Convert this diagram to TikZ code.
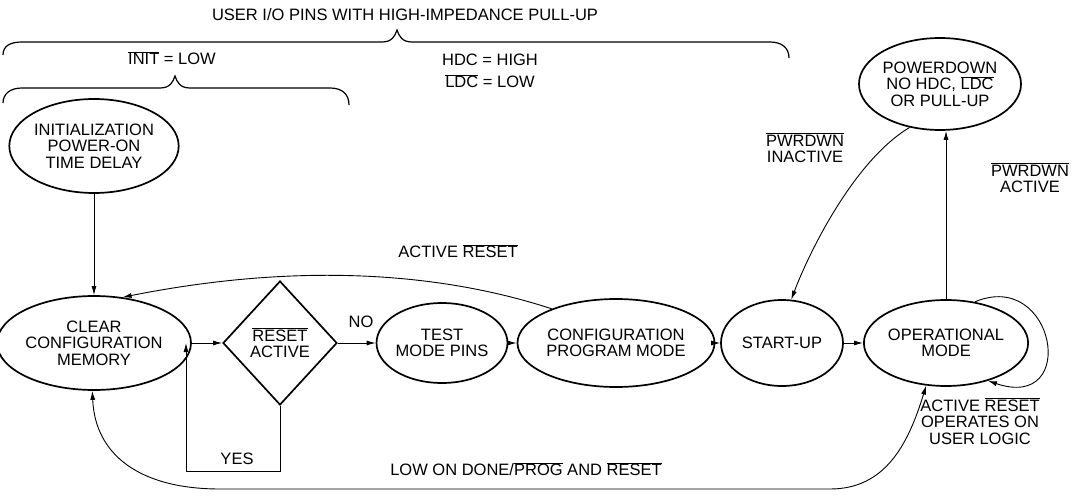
\documentclass[tikz,border=0pt]{standalone}
\usepackage{fontspec}
\setmainfont{Liberation Sans}
\usetikzlibrary{shapes.geometric,arrows.meta}
\newcommand{\ovl}[1]{$\overline{\mbox{#1}}$}
\begin{document}
\begin{tikzpicture}[x=1pt,y=-1pt,
  font=\fontsize{16.5}{16.5}\selectfont,
  st/.style={ellipse, draw, line width=1.7pt, inner sep=0pt, align=center},
  dia/.style={diamond, draw, line width=1.7pt, inner sep=0pt, align=center},
  conn/.style={line width=0.9pt, -{Latex[length=9pt,width=5pt]}},
  biconn/.style={line width=0.9pt, {Latex[length=9pt,width=5pt]}-{Latex[length=9pt,width=5pt]}},
  brace/.style={line width=1.2pt},
  lbl/.style={inner sep=0pt, align=center}]
\useasboundingbox (0,0) rectangle (1084,497);

% braces
\draw[brace] (3,55) .. controls (3,46) and (10,42) .. (22,42) -- (382,42)
  .. controls (392,42) and (395,36) .. (397,30)
  .. controls (399,36) and (402,42) .. (412,42) -- (770,42)
  .. controls (782,42) and (789,48) .. (789,58);
\draw[brace] (3,103) .. controls (3,94) and (10,88) .. (22,88) -- (160,88)
  .. controls (170,88) and (173,82) .. (175,76)
  .. controls (177,82) and (180,88) .. (190,88) -- (330,88)
  .. controls (342,88) and (349,94) .. (349,105);

\node[lbl] (tUser) at (405,15) {USER I/O PINS WITH HIGH-IMPEDANCE PULL-UP};
\node[lbl] (tInit) at (172,58) {\ovl{INIT} = LOW};
\node[lbl] (tHdc) at (490,60) {HDC = HIGH};
\node[lbl] (tLdc) at (490,81) {\ovl{LDC} = LOW};

% states
\node[st, minimum width=158, minimum height=94] (init) at (94,146) {INITIALIZATION\\POWER-ON\\TIME DELAY};
\node[st, minimum width=160, minimum height=94] (clear) at (94,343) {CLEAR\\CONFIGURATION\\MEMORY};
\node[dia, minimum width=114, minimum height=124] (dec) at (280,343) {\ovl{RESET}\\ACTIVE};
\node[st, minimum width=120, minimum height=80] (test) at (442,343) {TEST\\MODE PINS};
\node[st, minimum width=162, minimum height=88] (cfg) at (616,343) {CONFIGURATION\\PROGRAM MODE};
\node[st, minimum width=122, minimum height=86] (su) at (782,343) {START-UP};
\node[st, minimum width=128, minimum height=86] (op) at (946,343) {OPERATIONAL\\MODE};
\node[st, minimum width=150, minimum height=92] (pd) at (940,84) {POWERDOWN\\NO HDC, \ovl{LDC}\\OR PULL-UP};

% connectors
\draw[conn] (init) -- (clear);
\draw[conn] (clear) -- (dec);
\coordinate (yl) at (186,471);
\coordinate (yt) at (186,343);
\draw[conn] (dec.south) |- (yl) -- (yt);
\node[lbl] (tYes) at (237,459) {YES};
\draw[conn] (dec) -- (test);
\node[lbl] (tNo) at (361,322) {NO};
\draw[conn] (test) -- (cfg);
\draw[conn] (cfg) -- (su);
\draw[conn] (su) -- (op);
\draw[conn] (cfg.152) .. controls (470,282) and (330,256) .. (clear.58);
\node[lbl] (tAr) at (458,251) {ACTIVE \ovl{RESET}};
\draw[biconn] (clear.268) .. controls (95,455) and (140,489) .. (220,489) -- (830,489)
  .. controls (885,489) and (908,445) .. (op.245);
\node[lbl] (tAr2) at (980,421) {ACTIVE \ovl{RESET}\\OPERATES ON\\USER LOGIC};
\node[lbl] (tLow) at (526,469) {LOW ON DONE/\ovl{PROG} AND \ovl{RESET}};
\draw[conn] (op.55) .. controls (1055,268) and (1080,412) .. (op.-42);
\draw[conn] (op.north) -- (op.north |- pd.south);
\node[lbl] (tAct) at (1030,178) {\ovl{PWRDWN}\\ACTIVE};
\draw[conn] (pd.235) .. controls (855,160) and (810,250) .. (su.78);
\node[lbl] (tIna) at (805,148) {\ovl{PWRDWN}\\INACTIVE};
\end{tikzpicture}
\end{document}
